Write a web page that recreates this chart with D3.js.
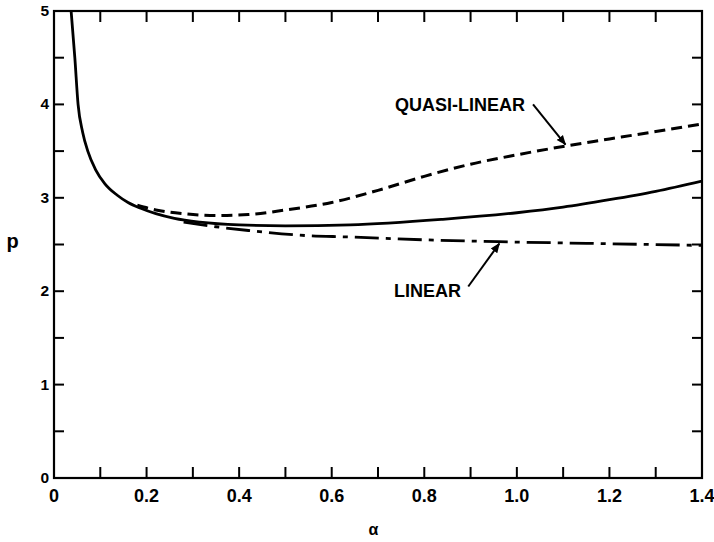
<!DOCTYPE html>
<html><head><meta charset="utf-8">
<script src="https://cdn.jsdelivr.net/npm/d3@7"></script>
<style>body{margin:0;background:#fff}text{font-family:"Liberation Sans",Arial,sans-serif;font-weight:bold;fill:#000}</style>
</head><body><svg id="c" width="714" height="542"></svg>
<script>
// Data
const solidAlpha = [0.037,0.045,0.052,0.062,0.073,0.09,0.11,0.136,0.16,0.186,0.22,0.26,0.315,0.4,0.5,0.64,0.84,1.0,1.1,1.2,1.3,1.4];
const solidP     = [5.0,4.5,4.0,3.7,3.5,3.3,3.15,3.03,2.95,2.89,2.83,2.78,2.74,2.71,2.70,2.71,2.77,2.84,2.90,2.98,3.07,3.18];
const quasiAlpha = [0.18,0.22,0.28,0.35,0.42,0.5,0.6,0.7,0.8,0.9,1.0,1.1,1.2,1.3,1.4];
const quasiP     = [2.92,2.87,2.83,2.81,2.82,2.87,2.95,3.08,3.23,3.36,3.46,3.55,3.63,3.71,3.79];
const linearAlpha = [0.28,0.35,0.42,0.53,0.64,0.8,0.96,1.18,1.4];
const linearP     = [2.74,2.69,2.65,2.60,2.58,2.55,2.53,2.51,2.49];
const xTickLabels = [0,0.2,0.4,0.6,0.8,1.0,1.2,1.4];
const yTickLabels = [0,1,2,3,4,5];

const svg = d3.select("#c");
const L=54,R=702,T=11,B=478;
const x = d3.scaleLinear().domain([0,1.4]).range([L,R]);
const y = d3.scaleLinear().domain([0,5]).range([B,T]);

// frame
svg.append("rect").attr("x",L).attr("y",T).attr("width",R-L).attr("height",B-T)
  .attr("fill","none").attr("stroke","#000").attr("stroke-width",2.2);

const tl=11;
const xt = d3.range(0,1.41,0.1), yt = d3.range(0,5.01,0.5);
const g = svg.append("g").attr("stroke","#000").attr("stroke-width",2);
xt.forEach(v=>{
  g.append("line").attr("x1",x(v)).attr("x2",x(v)).attr("y1",B).attr("y2",B-tl);
  g.append("line").attr("x1",x(v)).attr("x2",x(v)).attr("y1",T).attr("y2",T+tl);
});
yt.forEach(v=>{
  g.append("line").attr("x1",L).attr("x2",L+tl-1).attr("y1",y(v)).attr("y2",y(v));
  g.append("line").attr("x1",R).attr("x2",R-tl+1).attr("y1",y(v)).attr("y2",y(v));
});

const fmt = v => v===0 ? "0" : d3.format(".1f")(v);
svg.selectAll(".xl").data(xTickLabels).enter().append("text")
  .attr("x",d=>x(d)).attr("y",B+24).attr("text-anchor","middle").attr("font-size",18).text(fmt);
svg.selectAll(".yl").data(yTickLabels).enter().append("text")
  .attr("x",L-5).attr("y",d=>y(d)+5).attr("text-anchor","end").attr("font-size",15.5).text(d=>d);

svg.append("text").attr("x",12.5).attr("y",248).attr("text-anchor","middle").attr("font-size",20).text("p");
svg.append("text").attr("x",x(0.69)).attr("y",535).attr("text-anchor","middle").attr("font-size",16).text("α");

const line = d3.line().x(d=>x(d[0])).y(d=>y(d[1])).curve(d3.curveMonotoneX);
const zip=(a,b)=>a.map((v,i)=>[v,b[i]]);
svg.append("clipPath").attr("id","cp").append("rect").attr("x",L).attr("y",T).attr("width",R-L).attr("height",B-T);
svg.append("path").attr("d",line(zip(solidAlpha,solidP))).attr("fill","none").attr("stroke","#000").attr("stroke-width",2.8).attr("clip-path","url(#cp)");
svg.append("path").attr("d",line(zip(quasiAlpha,quasiP))).attr("fill","none").attr("stroke","#000").attr("stroke-width",3).attr("stroke-dasharray","11,6");
svg.append("path").attr("d",line(zip(linearAlpha,linearP))).attr("fill","none").attr("stroke","#000").attr("stroke-width",2.8).attr("stroke-dasharray","24,7,5,7");

// annotations
svg.append("defs").append("marker").attr("id","ah").attr("viewBox","0 0 10 10").attr("refX",9).attr("refY",5)
  .attr("markerWidth",5).attr("markerHeight",5).attr("orient","auto")
  .append("path").attr("d","M0,1 L10,5 L0,9 Z").attr("fill","#000");
svg.append("text").attr("x",x(0.877)).attr("y",y(3.93)).attr("text-anchor","middle").attr("font-size",18).text("QUASI-LINEAR");
svg.append("line").attr("x1",x(1.035)).attr("y1",y(4.0)).attr("x2",x(1.105)).attr("y2",y(3.57))
  .attr("stroke","#000").attr("stroke-width",2).attr("marker-end","url(#ah)");
svg.append("text").attr("x",x(0.807)).attr("y",y(1.94)).attr("text-anchor","middle").attr("font-size",18).text("LINEAR");
svg.append("line").attr("x1",x(0.895)).attr("y1",y(2.05)).attr("x2",x(0.962)).attr("y2",y(2.51))
  .attr("stroke","#000").attr("stroke-width",2).attr("marker-end","url(#ah)");
</script></body></html>
